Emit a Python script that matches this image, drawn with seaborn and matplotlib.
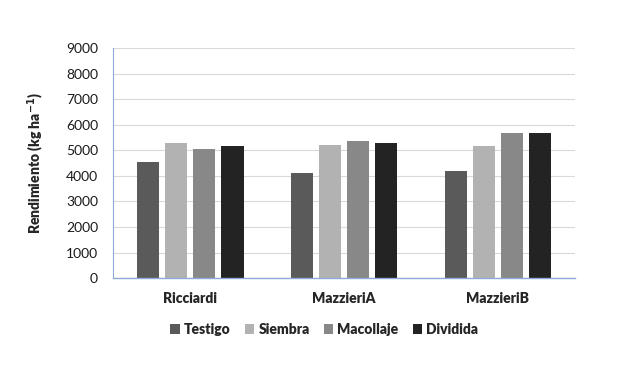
import matplotlib
matplotlib.use('Agg')
import matplotlib.pyplot as plt
import seaborn as sns
import pandas as pd

# Datos
variedades = ['Ricciardi', 'MazzieriA', 'MazzieriB']
tratamientos = ['Testigo', 'Siembra', 'Macollaje', 'Dividida']
testigo = [4550, 4100, 4200]
siembra = [5300, 5220, 5180]
macollaje = [5050, 5380, 5680]
dividida = [5150, 5300, 5680]
colores = ['#5a5a5a', '#b2b2b2', '#888888', '#232323']

df = pd.DataFrame({
    'Variedad': variedades * 4,
    'Tratamiento': [t for t in tratamientos for _ in variedades],
    'Rendimiento': testigo + siembra + macollaje + dividida,
})

sns.set_style('white')
plt.rcParams['font.family'] = ['Lato', 'DejaVu Sans']
negrita = 'heavy'

fig = plt.figure(figsize=(6.36, 3.66), dpi=100)
ax = fig.add_axes([0.178, 0.240, 0.726, 0.629])

sns.barplot(data=df, x='Variedad', y='Rendimiento', hue='Tratamiento',
            palette=colores, width=0.73, gap=0.2, saturation=1, ax=ax,
            errorbar=None, linewidth=0)

ax.set_ylim(0, 9000)
ax.set_yticks(range(0, 9001, 1000))
ax.yaxis.grid(True, color='#d9d9d9', linewidth=0.8)
ax.set_axisbelow(True)
ax.tick_params(axis='y', labelsize=10, length=0, pad=11, labelcolor='#1a1a1a')
ax.tick_params(axis='x', labelsize=10, length=0, pad=10)
for lbl in ax.get_xticklabels():
    lbl.set_fontweight(negrita)

for s in ['top', 'right']:
    ax.spines[s].set_visible(False)
ax.spines['left'].set_color('#8eaad8')
ax.spines['bottom'].set_color('#8eaad8')
ax.spines['left'].set_linewidth(0.8)
ax.spines['bottom'].set_linewidth(1.0)

ax.set_xlabel('')
ax.set_ylabel(r'Rendimiento (kg ha$^{\mathbf{-1}}$)', fontsize=10,
              fontweight=negrita, labelpad=14)

ax.legend(loc='upper center', bbox_to_anchor=(0.457, -0.14), ncol=4,
          frameon=False, handlelength=0.7, handleheight=0.7,
          handletextpad=0.3, columnspacing=1.0,
          prop={'weight': negrita, 'size': 10})

fig.savefig('out.png', dpi=100)
